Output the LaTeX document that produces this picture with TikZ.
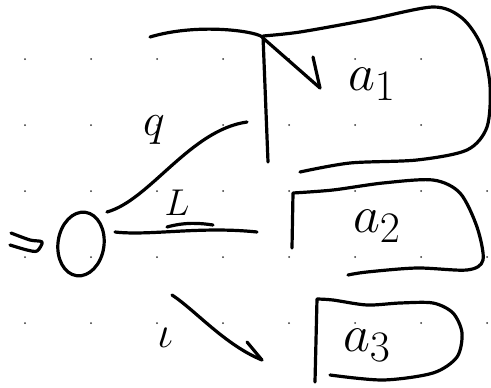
\documentclass[tikz,border=0pt]{standalone}
\usetikzlibrary{positioning, shapes.geometric}
\begin{document}
\begin{tikzpicture}[x=1pt, y=-1pt,
  ink/.style={line width=3.2pt, line cap=round, line join=round},
  edgelbl/.style={font=\Huge, transform shape},
  boxlbl/.style={font=\Huge, scale=2.1, transform shape}]
  \useasboundingbox (0,0) rectangle (491,388);

  % dot grid
  \foreach \gx in {25,91,...,490}
    \foreach \gy in {59,125,...,390}
      \fill[black!80] (\gx,\gy) circle (1pt);

  % start state
  \node[ink, draw, ellipse, rotate=-8, minimum width=46pt, minimum height=64pt] (s0) at (81,244) {};
  \draw[ink] plot[smooth] coordinates {(11,233) (30,240) (42,242) (37,251) (27,250) (10,245)};

  % boxes
  \draw[ink] (268,162) -- (263,36) plot[smooth] coordinates {(263,36) (300,32) (367,20) (433,7) (462,18) (481,45) (490,85) (487,127) (467,150) (417,160) (350,163) (300,172)};
  \draw[ink] (292,248) -- (293,193) plot[smooth] coordinates {(293,193) (333,190) (383,183) (433,180) (460,193) (477,227) (483,260) (467,270) (417,268) (367,272) (348,275)};
  \draw[ink] (315,382) -- (317,299) plot[smooth] coordinates {(317,299) (333,300) (367,305) (400,303) (433,303) (453,313) (462,333) (457,357) (433,373) (383,380) (330,375)};
  \node[boxlbl] (a1) at (372,84) {$a_1$};
  \node[boxlbl] (a2) at (377,226) {$a_2$};
  \node[boxlbl] (a3) at (367,345) {$a_3$};

  % arrow ends
  \coordinate (q0) at (107,212);
  \coordinate (q1) at (247,122);
  \coordinate (l0) at (115,232);
  \coordinate (l1) at (257,232);
  \coordinate (i0) at (172,295);
  \coordinate (i1) at (262,360);
  \coordinate (e0) at (150,37);
  \coordinate (e1) at (320,88);

  % transitions
  \draw[ink] (q0) .. controls (150,200) and (190,130) .. (q1);
  \draw[ink] (l0) .. controls (150,236) and (200,226) .. (l1);
  \draw[ink] (167,227) .. controls (185,222) and (200,223) .. (213,225);
  \draw[ink] (i0) .. controls (195,310) and (225,345) .. (i1);
  \draw[ink] (247,342) -- (i1);
  \draw[ink] (e0) .. controls (200,22) and (262,32) .. (263,38) -- (e1);
  \draw[ink] (313,57) -- (e1);

  % labels
  \node[edgelbl, scale=1.85] (q) at (154,130) {$q$};
  \node[edgelbl, scale=1.5] (L) at (177,203) {$L$};
  \node[edgelbl, scale=1.8] (i) at (165,338) {$\iota$};
\end{tikzpicture}
\end{document}
